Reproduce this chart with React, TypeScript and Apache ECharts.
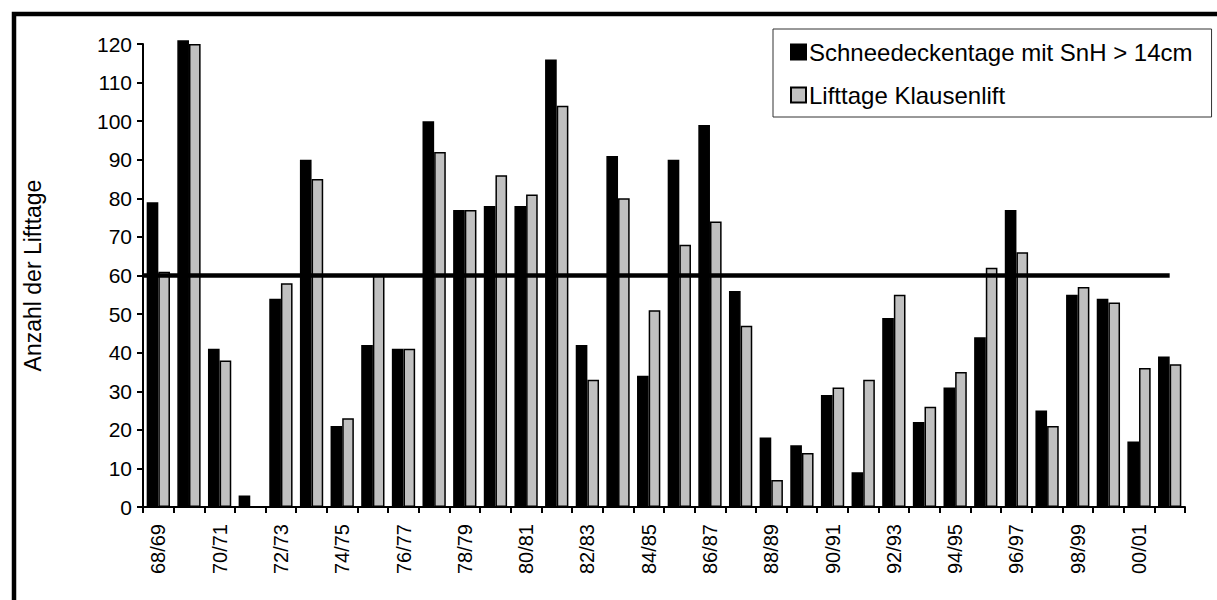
import React, { useEffect, useRef } from "react";
import * as echarts from "echarts";

const seasons = [
  "68/69", "69/70", "70/71", "71/72", "72/73", "73/74", "74/75", "75/76", "76/77", "77/78",
  "78/79", "79/80", "80/81", "81/82", "82/83", "83/84", "84/85", "85/86", "86/87", "87/88",
  "88/89", "89/90", "90/91", "91/92", "92/93", "93/94", "94/95", "95/96", "96/97", "97/98",
  "98/99", "99/00", "00/01", "01/02",
];

const schneedeckentage = [
  79, 121, 41, 3, 54, 90, 21, 42, 41, 100,
  77, 78, 78, 116, 42, 91, 34, 90, 99, 56,
  18, 16, 29, 9, 49, 22, 31, 44, 77, 25,
  55, 54, 17, 39,
];

const lifttage = [
  61, 120, 38, 0, 58, 85, 23, 60, 41, 92,
  77, 86, 81, 104, 33, 80, 51, 68, 74, 47,
  7, 14, 31, 33, 55, 26, 35, 62, 66, 21,
  57, 53, 36, 37,
];

const thresholdValue = 60;
const thresholdSpan = [0, 33.5];

const nameSnow = "Schneedeckentage mit SnH > 14cm";
const nameLift = "Lifttage Klausenlift";
const yAxisTitle = "Anzahl der Lifttage";

const FONT = "'Liberation Sans', Arial, Helvetica, sans-serif";

export default function App() {
  const ref = useRef<HTMLDivElement>(null);

  useEffect(() => {
    if (!ref.current) return;
    const chart = echarts.init(ref.current, undefined, { renderer: "svg" });
    chart.setOption({
      animation: false,
      backgroundColor: "#ffffff",
      textStyle: { fontFamily: FONT, color: "#000" },
      graphic: [
        {
          type: "rect",
          shape: { x: 14, y: 14, width: 1400, height: 800 },
          style: { fill: "none", stroke: "#000", lineWidth: 4.5 },
          silent: true,
        },
      ],
      grid: { left: 143, top: 44, right: 32, bottom: 93, containLabel: false },
      legend: {
        data: [nameSnow, nameLift],
        orient: "vertical",
        left: 773,
        top: 29,
        padding: [11, 19, 10, 17],
        itemGap: 19,
        itemWidth: 15,
        itemHeight: 15,
        icon: "rect",
        borderColor: "#333",
        borderWidth: 1,
        backgroundColor: "#fff",
        textStyle: { fontFamily: FONT, fontSize: 24, color: "#000", padding: [0, 0, 0, -2] },
      },
      xAxis: [
        {
          type: "category",
          data: seasons,
          boundaryGap: true,
          axisLine: { lineStyle: { color: "#000", width: 2 } },
          axisTick: { show: true, interval: 0, length: 6, lineStyle: { color: "#000", width: 2 } },
          axisLabel: {
            interval: 1,
            rotate: 90,
            margin: 17,
            fontSize: 20,
            color: "#000",
            fontFamily: FONT,
          },
          splitLine: { show: false },
        },
        {
          type: "value",
          min: 0,
          max: seasons.length,
          show: false,
        },
      ],
      yAxis: {
        type: "value",
        min: 0,
        max: 120,
        interval: 10,
        name: yAxisTitle,
        nameLocation: "middle",
        nameGap: 99,
        nameTextStyle: { fontFamily: FONT, fontSize: 23, color: "#000" },
        axisLine: { show: true, lineStyle: { color: "#000", width: 2 } },
        axisTick: { show: true, length: 6, lineStyle: { color: "#000", width: 2 } },
        axisLabel: { fontSize: 21, color: "#000", margin: 11, fontFamily: FONT },
        splitLine: { show: false },
      },
      series: [
        {
          name: nameSnow,
          type: "bar",
          data: schneedeckentage,
          barGap: "0%",
          barCategoryGap: "24%",
          clip: false,
          itemStyle: { color: "#000", borderColor: "#000", borderWidth: 1.5 },
          z: 2,
        },
        {
          name: nameLift,
          type: "bar",
          data: lifttage,
          barGap: "0%",
          barCategoryGap: "24%",
          clip: false,
          itemStyle: { color: "#c0c0c0", borderColor: "#000", borderWidth: 1.5 },
          z: 2,
        },
        {
          name: "Grenzwert",
          type: "line",
          xAxisIndex: 1,
          yAxisIndex: 0,
          data: thresholdSpan.map((x) => [x, thresholdValue]),
          symbol: "none",
          lineStyle: { color: "#000", width: 4.5 },
          z: 5,
          silent: true,
        },
      ],
    });
    return () => chart.dispose();
  }, []);

  return (
    <div
      ref={ref}
      style={{ position: "absolute", left: 0, top: 0, width: 1217, height: 600 }}
    />
  );
}
